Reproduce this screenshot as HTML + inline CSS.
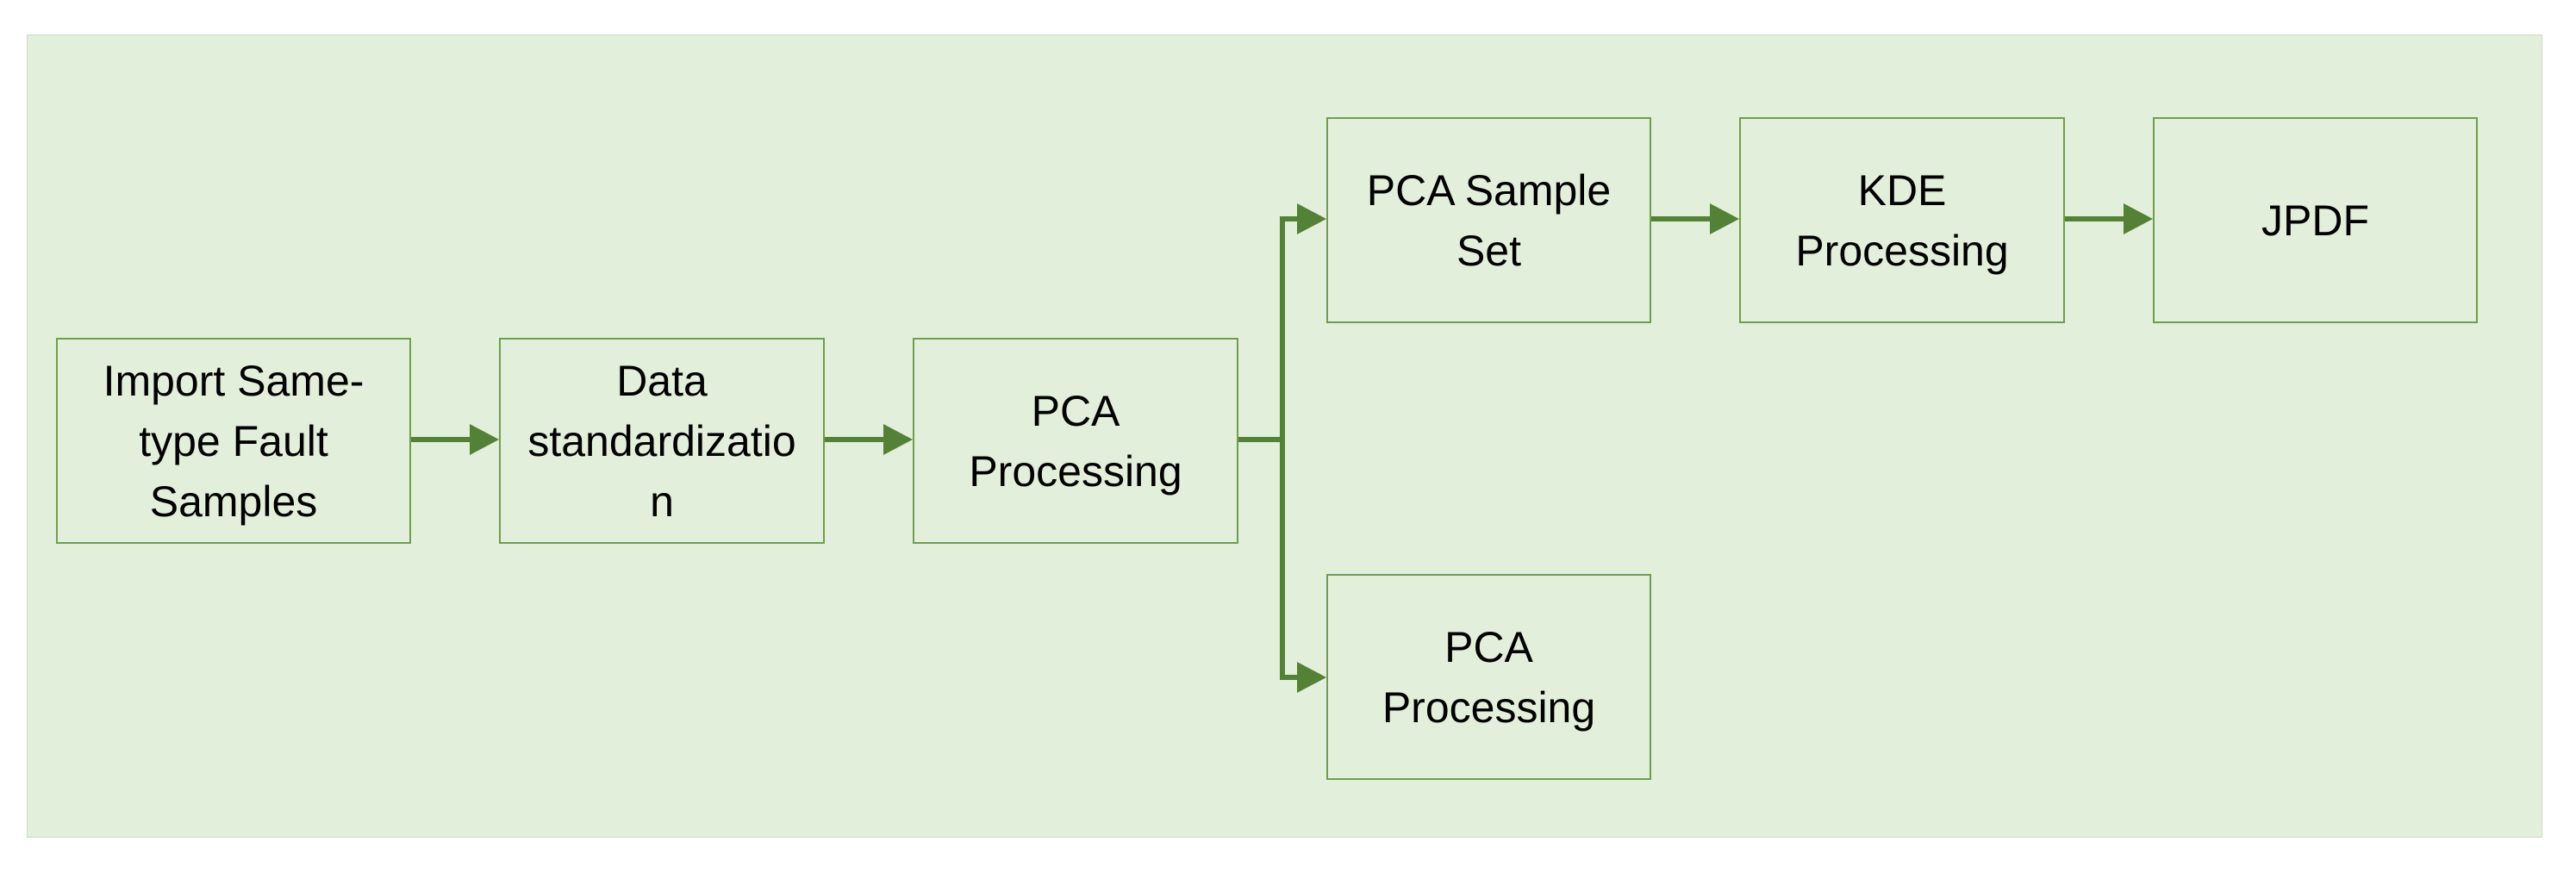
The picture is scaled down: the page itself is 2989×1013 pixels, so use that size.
<!DOCTYPE html>
<html><head><meta charset="utf-8"><style>
html,body{margin:0;padding:0;background:#fff;}
body{width:2989px;height:1013px;position:relative;overflow:hidden;font-family:"Liberation Sans",sans-serif;}
.bg{position:absolute;left:31px;top:40px;width:2919px;height:932px;background:#e2efda;border:1px solid #c9dfbc;box-sizing:border-box;}
.box{position:absolute;border:2px solid #6f9e4c;box-sizing:border-box;display:flex;align-items:center;justify-content:center;text-align:center;font-size:50px;line-height:70px;color:#000;}
</style></head><body>
<div class="bg"></div>
<div class="box" style="left:65px;top:392px;width:412px;height:239px;">Import Same-<br>type Fault<br>Samples</div>
<div class="box" style="left:579px;top:392px;width:378px;height:239px;">Data<br>standardizatio<br>n</div>
<div class="box" style="left:1059px;top:392px;width:378px;height:239px;">PCA<br>Processing</div>
<div class="box" style="left:1539px;top:136px;width:377px;height:239px;">PCA Sample<br>Set</div>
<div class="box" style="left:2018px;top:136px;width:378px;height:239px;">KDE<br>Processing</div>
<div class="box" style="left:2498px;top:136px;width:377px;height:239px;">JPDF</div>
<div class="box" style="left:1539px;top:666px;width:377px;height:239px;">PCA<br>Processing</div>
<svg style="position:absolute;left:0;top:0" width="2989" height="1013">
<g stroke="#538135" stroke-width="6" fill="none">
<line x1="477" y1="510" x2="548" y2="510"/>
<line x1="957" y1="510" x2="1028" y2="510"/>
<line x1="1437" y1="510" x2="1488" y2="510"/>
<polyline points="1508,254 1488,254 1488,786 1508,786"/>
<line x1="1916" y1="254" x2="1987" y2="254"/>
<line x1="2396" y1="254" x2="2467" y2="254"/>
</g>
<g fill="#538135">
<polygon points="545,492 579,510 545,528"/>
<polygon points="1025,492 1059,510 1025,528"/>
<polygon points="1505,236 1539,254 1505,272"/>
<polygon points="1505,768 1539,786 1505,804"/>
<polygon points="1984,236 2018,254 1984,272"/>
<polygon points="2464,236 2498,254 2464,272"/>
</g>
</svg>
</body></html>
